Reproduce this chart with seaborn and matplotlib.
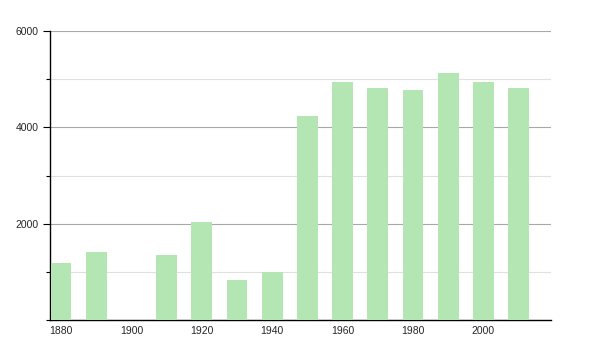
import matplotlib
matplotlib.use("Agg")
import matplotlib.pyplot as plt
import seaborn as sns
import pandas as pd
from matplotlib.ticker import MultipleLocator

years = [1880, 1890, 1910, 1920, 1930, 1940, 1950, 1960, 1970, 1980, 1990, 2000, 2010]
population = [1190, 1420, 1350, 2035, 830, 995, 4230, 4940, 4810, 4770, 5120, 4940, 4810]
x_ticks = [1880, 1900, 1920, 1940, 1960, 1980, 2000]
y_ticks = [2000, 4000, 6000]

df = pd.DataFrame({"year": years, "population": population})

sns.set_style("white")
plt.rcParams['font.family'] = ['Liberation Sans', 'DejaVu Sans']

fig = plt.figure(figsize=(6, 3.5), dpi=100)
ax = fig.add_axes([50/600, 30/350, 501/600, 289/350])

sns.barplot(data=df, x="year", y="population", native_scale=True, width=0.59,
            color="#b3e6b3", saturation=1, edgecolor="none", ax=ax, zorder=3)

ax.set_xlim(1876.9, 2019.2)
ax.set_ylim(0, 6000)
ax.set_xticks(x_ticks)
ax.set_xticklabels([str(t) for t in x_ticks])
ax.set_yticks(y_ticks)
ax.set_yticklabels([str(t) for t in y_ticks])
ax.yaxis.set_minor_locator(MultipleLocator(1000))
ax.grid(axis="y", which="major", color="#a8a8a8", linewidth=0.8, zorder=0)
ax.grid(axis="y", which="minor", color="#e0e0e0", linewidth=0.8, zorder=0)
ax.set_axisbelow(True)
ax.set_xlabel("")
ax.set_ylabel("")

for s in ["top", "right"]:
    ax.spines[s].set_visible(False)
for s in ["left", "bottom"]:
    ax.spines[s].set_color("black")
    ax.spines[s].set_linewidth(1.0)

ax.tick_params(axis="y", which="major", left=True, length=5, width=0.8, color="black",
               labelsize=7.5, pad=3)
ax.tick_params(axis="y", which="minor", left=True, length=3, width=0.8, color="black")
ax.tick_params(axis="x", which="both", bottom=False, labelsize=7.5, pad=1)

fig.savefig("out.png", dpi=100)
